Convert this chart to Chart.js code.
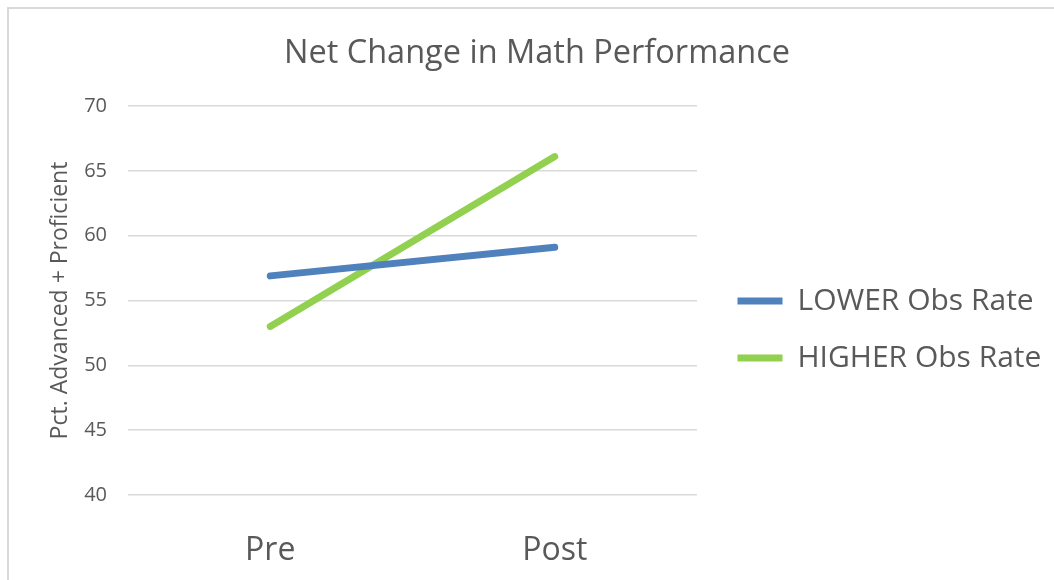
<!DOCTYPE html>
<html>
<head>
<meta charset="utf-8">
<script src="https://cdn.jsdelivr.net/npm/chart.js@4.4.1/dist/chart.umd.min.js"></script>
<style>
  html, body { margin: 0; padding: 0; background: #ffffff; overflow: hidden; }
  #frame { position: absolute; left: 7px; top: 7px; width: 1200px; height: 700px;
           border-left: 2px solid #d9d9d9; border-top: 2px solid #d9d9d9; z-index: 0; }
  #wrap { position: absolute; left: 0; top: 0; width: 1054px; height: 580px; z-index: 1; }
</style>
</head>
<body>
<div id="frame"></div>
<div id="wrap"><canvas id="c" width="1054" height="580"></canvas></div>
<script>
// ---- data ----
const categories = ['Pre', 'Post'];
const seriesNames = ['LOWER Obs Rate', 'HIGHER Obs Rate'];
const lowerRate = [56.9, 59.1];
const higherRate = [53.0, 66.1];
const yTickMin = 40;
const yTickMax = 70;
const yTickStep = 5;
const chartTitle = 'Net Change in Math Performance';
const yAxisTitle = 'Pct. Advanced + Proficient';

// ---- styling ----
const FONT = "'Open Sans', sans-serif";
const TEXT = '#595959';
const GRID = '#d9d9d9';
const W = 1054, H = 580;
const AREA = { left: 128, right: 697, top: 106, bottom: 495 };
const LEG_FONT = 30, LEG_PAD = 27, LEG_BOX = 45;
const TITLE_SIZE = 32.5, TITLE_PAD_TOP = 34;

// measure legend natural width so chart area right lands where wanted
const mctx = document.createElement('canvas').getContext('2d');
mctx.font = `normal ${LEG_FONT}px ${FONT}`;
const maxText = Math.max(...seriesNames.map(s => mctx.measureText(s).width));
const legendNatural = LEG_PAD + LEG_BOX + LEG_FONT / 2 + maxText + 10;
const padR = Math.max(0, W - AREA.right - legendNatural);
const padL = 20 + padR;

const legendShift = {
  id: 'legendShift',
  afterLayout(chart) {
    const lg = chart.legend;
    if (!lg) return;
    const dx = (737.5 - LEG_PAD) - lg.left;
    lg.left += dx; lg.right += dx;
    const dy = (301 - LEG_FONT / 2 - LEG_PAD) - lg.top;
    lg.top += dy; lg.bottom += dy;
  }
};

new Chart(document.getElementById('c'), {
  type: 'line',
  data: {
    labels: categories,
    datasets: [
      { label: seriesNames[0], data: lowerRate, borderColor: '#4f81bd', backgroundColor: '#4f81bd',
        borderWidth: 7, borderCapStyle: 'round', pointRadius: 0, pointHoverRadius: 0, tension: 0 },
      { label: seriesNames[1], data: higherRate, borderColor: '#92d050', backgroundColor: '#92d050',
        borderWidth: 7, borderCapStyle: 'round', pointRadius: 0, pointHoverRadius: 0, tension: 0 }
    ]
  },
  options: {
    responsive: false,
    animation: false,
    events: [],
    layout: { padding: { left: padL, right: padR, top: 0, bottom: 0 } },
    plugins: {
      title: {
        display: true, text: chartTitle, color: TEXT,
        font: { family: FONT, size: TITLE_SIZE, weight: 'normal' },
        padding: { top: TITLE_PAD_TOP, bottom: AREA.top - TITLE_PAD_TOP - TITLE_SIZE * 1.2 }
      },
      legend: {
        display: true, position: 'right', align: 'start', fullSize: false,
        maxWidth: W - AREA.right,
        labels: {
          color: TEXT, font: { family: FONT, size: LEG_FONT },
          usePointStyle: true, pointStyle: 'line', pointStyleWidth: LEG_BOX,
          padding: LEG_PAD
        }
      },
      tooltip: { enabled: false }
    },
    scales: {
      x: {
        offset: true,
        grid: { display: false },
        border: { display: false },
        ticks: { color: TEXT, font: { family: FONT, size: 32 }, padding: 29 },
        afterFit(s) { s.height = H - AREA.bottom; }
      },
      y: {
        min: yTickMin, max: yTickMax,
        ticks: { stepSize: yTickStep, color: TEXT, font: { family: FONT, size: 20 }, padding: 21 },
        grid: { color: GRID, lineWidth: 1.5, drawTicks: false },
        border: { display: false },
        title: {
          display: true, text: yAxisTitle, color: TEXT,
          font: { family: FONT, size: 23 },
          padding: { top: 60 - padL - 23 * 1.2 / 2, bottom: 0 }
        },
        afterFit(s) { s.width = AREA.left - padL; }
      }
    }
  },
  plugins: [legendShift]
});
</script>
</body>
</html>
